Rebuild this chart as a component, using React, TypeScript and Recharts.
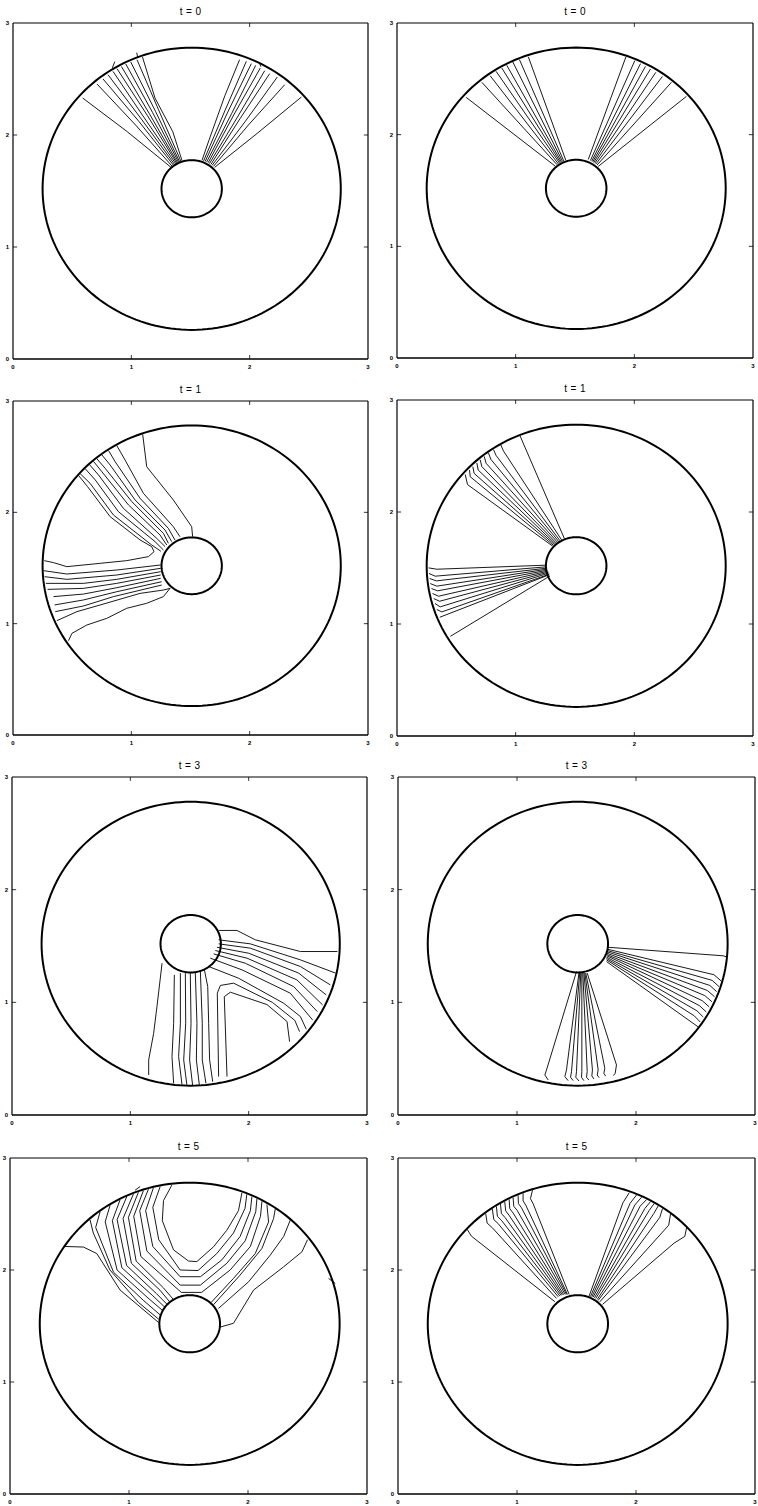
import { LineChart, Line, XAxis, YAxis, ReferenceLine } from 'recharts';

type Pt = [number, number];

const axisTicks = [0, 1, 2, 3];
const innerTicks = [1, 2];
const titles = ['t = 0', 't = 0', 't = 1', 't = 1', 't = 3', 't = 3', 't = 5', 't = 5'];

// annulus: outer wall and inner cylinder, data units
const centre: Pt = [1.51, 1.52];
const outerRadius = 1.26;
const innerRadius = 0.255;

// t = 0, computed contours
const t0Numeric: Pt[][] = [
  [[0.589, 2.33], [0.965, 2.03], [1.336, 1.711]],
  [[0.71, 2.455], [1.035, 2.09], [1.346, 1.72]],
  [[0.761, 2.5], [1.065, 2.12], [1.357, 1.729]],
  [[0.803, 2.538], [1.09, 2.135], [1.366, 1.736]],
  [[0.845, 2.568], [1.105, 2.16], [1.376, 1.742]],
  [[0.879, 2.592], [1.135, 2.175], [1.384, 1.747]],
  [[0.916, 2.612], [1.158, 2.18], [1.391, 1.752]],
  [[0.953, 2.634], [1.18, 2.2], [1.4, 1.756]],
  [[0.995, 2.652], [1.205, 2.21], [1.408, 1.76]],
  [[1.048, 2.672], [1.23, 2.225], [1.419, 1.765]],
  [[1.094, 2.697], [1.2, 2.33], [1.35, 2.03], [1.429, 1.769]],
  [[2.437, 2.339], [2.07, 2.02], [1.704, 1.711]],
  [[2.296, 2.449], [1.99, 2.09], [1.694, 1.72]],
  [[2.234, 2.518], [1.962, 2.12], [1.683, 1.729]],
  [[2.169, 2.548], [1.918, 2.145], [1.672, 1.737]],
  [[2.127, 2.574], [1.897, 2.16], [1.66, 1.745]],
  [[2.09, 2.598], [1.866, 2.18], [1.649, 1.752]],
  [[2.051, 2.622], [1.847, 2.19], [1.636, 1.758]],
  [[2.014, 2.637], [1.815, 2.205], [1.624, 1.764]],
  [[1.972, 2.658], [1.79, 2.215], [1.611, 1.769]],
  [[1.915, 2.673], [1.79, 2.35], [1.655, 1.95], [1.597, 1.773]],
  [[0.84, 2.6], [0.86, 2.655]],
  [[1.045, 2.735], [1.055, 2.69]],
  [[2.08, 2.65], [2.095, 2.61]],
];

// t = 0, exact contours
const t0Exact: Pt[][] = [
  [[0.583, 2.334], [1.336, 1.716]],
  [[0.715, 2.469], [1.35, 1.73]],
  [[0.785, 2.528], [1.36, 1.738]],
  [[0.835, 2.567], [1.37, 1.745]],
  [[0.883, 2.597], [1.378, 1.75]],
  [[0.925, 2.621], [1.386, 1.755]],
  [[0.976, 2.651], [1.395, 1.76]],
  [[1.032, 2.672], [1.405, 1.765]],
  [[1.107, 2.696], [1.422, 1.772]],
  [[2.439, 2.343], [1.696, 1.716]],
  [[2.313, 2.469], [1.686, 1.728]],
  [[2.237, 2.522], [1.676, 1.737]],
  [[2.181, 2.558], [1.667, 1.745]],
  [[2.136, 2.588], [1.658, 1.751]],
  [[2.094, 2.612], [1.65, 1.757]],
  [[2.052, 2.636], [1.641, 1.762]],
  [[2.004, 2.663], [1.63, 1.768]],
  [[1.929, 2.696], [1.612, 1.778]],
];

// t = 1, computed contours
const t1Numeric: Pt[][] = [
  [[1.096, 2.7], [1.13, 2.41], [1.355, 2.111], [1.51, 1.871], [1.518, 1.781]],
  [[0.877, 2.6], [0.947, 2.47], [1.102, 2.171], [1.355, 1.871], [1.411, 1.781]],
  [[0.807, 2.556], [0.863, 2.455], [1.074, 2.126], [1.313, 1.856], [1.369, 1.751]],
  [[0.751, 2.516], [0.821, 2.425], [1.032, 2.111], [1.285, 1.841], [1.341, 1.737]],
  [[0.708, 2.482], [0.779, 2.395], [1.004, 2.096], [1.271, 1.811], [1.313, 1.722]],
  [[0.68, 2.458], [0.751, 2.365], [0.976, 2.066], [1.243, 1.796], [1.299, 1.707]],
  [[0.647, 2.428], [0.723, 2.335], [0.933, 2.036], [1.215, 1.766], [1.285, 1.692]],
  [[0.61, 2.392], [0.695, 2.291], [0.891, 2.006], [1.2, 1.737], [1.271, 1.662]],
  [[0.568, 2.347], [0.652, 2.26], [0.849, 1.976], [1.172, 1.707], [1.25, 1.65]],
  [[0.554, 2.331], [0.63, 2.231], [0.821, 1.961], [1.074, 1.752], [1.172, 1.692], [1.192, 1.647],
   [1.144, 1.602], [0.961, 1.566], [0.737, 1.542], [0.455, 1.512], [0.343, 1.548], [0.264, 1.566]],
  [[0.259, 1.476], [0.455, 1.446], [0.877, 1.482], [1.248, 1.527]],
  [[0.267, 1.422], [0.455, 1.398], [0.877, 1.437], [1.248, 1.497]],
  [[0.278, 1.362], [0.596, 1.362], [0.877, 1.398], [1.248, 1.467]],
  [[0.292, 1.308], [0.596, 1.317], [0.877, 1.362], [1.248, 1.437]],
  [[0.343, 1.243], [0.596, 1.266], [0.877, 1.323], [1.248, 1.407]],
  [[0.351, 1.168], [0.596, 1.213], [0.877, 1.287], [1.257, 1.377]],
  [[0.357, 1.108], [0.596, 1.159], [0.849, 1.243], [1.257, 1.347]],
  [[0.371, 1.027], [0.54, 1.108], [0.737, 1.168], [1.074, 1.272], [1.271, 1.302], [1.327, 1.317]],
  [[0.469, 0.847], [0.498, 0.913], [0.624, 0.988], [0.793, 1.048], [0.961, 1.138], [1.13, 1.183],
   [1.271, 1.243], [1.327, 1.317]],
];

// t = 1, exact contours
const t1Exact: Pt[][] = [
  [[1.037, 2.68], [1.41, 1.764]],
  [[0.875, 2.6], [0.897, 2.545], [1.388, 1.749]],
  [[0.813, 2.558], [0.835, 2.505], [1.374, 1.743]],
  [[0.771, 2.526], [0.791, 2.47], [1.365, 1.734]],
  [[0.735, 2.496], [0.751, 2.435], [1.354, 1.728]],
  [[0.701, 2.466], [0.715, 2.405], [1.346, 1.719]],
  [[0.673, 2.437], [0.684, 2.375], [1.337, 1.713]],
  [[0.639, 2.405], [0.65, 2.345], [1.329, 1.707]],
  [[0.611, 2.375], [0.617, 2.315], [1.32, 1.701]],
  [[0.575, 2.335], [0.594, 2.245], [1.312, 1.695]],
  [[0.266, 1.501], [0.336, 1.489], [1.248, 1.525]],
  [[0.27, 1.451], [0.322, 1.427], [1.253, 1.51]],
  [[0.275, 1.406], [0.331, 1.385], [1.259, 1.498]],
  [[0.28, 1.361], [0.336, 1.338], [1.262, 1.489]],
  [[0.29, 1.317], [0.342, 1.296], [1.267, 1.48]],
  [[0.3, 1.272], [0.35, 1.248], [1.27, 1.471]],
  [[0.31, 1.227], [0.359, 1.203], [1.276, 1.463]],
  [[0.32, 1.183], [0.364, 1.153], [1.278, 1.454]],
  [[0.335, 1.129], [0.378, 1.108], [1.284, 1.445]],
  [[0.36, 1.06], [1.281, 1.439]],
  [[0.45, 0.89], [1.29, 1.43]],
];

// t = 3, computed contours
const t3Numeric: Pt[][] = [
  [[1.746, 1.638], [1.901, 1.638], [2.056, 1.555], [2.437, 1.451], [2.75, 1.451]],
  [[1.746, 1.555], [2.014, 1.519], [2.437, 1.377], [2.735, 1.259]],
  [[1.746, 1.519], [2.014, 1.481], [2.437, 1.318], [2.69, 1.155]],
  [[1.732, 1.489], [2.0, 1.436], [2.423, 1.259], [2.655, 1.066]],
  [[1.718, 1.46], [1.986, 1.392], [2.408, 1.199], [2.625, 0.977]],
  [[1.704, 1.43], [1.972, 1.347], [2.38, 1.14], [2.58, 0.918]],
  [[1.676, 1.392], [1.944, 1.288], [2.352, 1.081], [2.54, 0.844]],
  [[1.662, 1.318], [1.915, 1.214], [2.296, 0.992], [2.437, 0.874], [2.487, 0.761]],
  [[1.746, 0.341], [1.735, 1.081], [1.761, 1.15], [1.873, 1.17], [2.2, 1.0], [2.39, 0.84], [2.43, 0.74]],
  [[1.817, 0.341], [1.794, 1.05], [1.845, 1.09], [2.155, 0.98], [2.324, 0.83], [2.346, 0.651]],
  [[1.268, 1.347], [1.225, 0.962], [1.197, 0.725], [1.155, 0.489], [1.155, 0.355]],
  [[1.372, 1.244], [1.366, 0.814], [1.352, 0.518], [1.366, 0.281]],
  [[1.423, 1.259], [1.423, 0.814], [1.408, 0.518], [1.437, 0.267]],
  [[1.465, 1.259], [1.468, 0.814], [1.451, 0.489], [1.479, 0.258]],
  [[1.507, 1.259], [1.513, 0.814], [1.501, 0.489], [1.527, 0.258]],
  [[1.549, 1.264], [1.563, 0.814], [1.558, 0.489], [1.583, 0.267]],
  [[1.592, 1.273], [1.608, 0.814], [1.608, 0.489], [1.639, 0.281]],
  [[1.625, 1.294], [1.654, 1.14], [1.662, 0.814], [1.67, 0.489], [1.696, 0.296]],
];

// t = 3, exact contours
const t3Exact: Pt[][] = [
  [[1.761, 1.489], [2.733, 1.413], [2.757, 1.405]],
  [[1.758, 1.472], [2.655, 1.245], [2.715, 1.19]],
  [[1.758, 1.46], [2.64, 1.195], [2.697, 1.14]],
  [[1.758, 1.448], [2.62, 1.15], [2.678, 1.095]],
  [[1.755, 1.436], [2.6, 1.105], [2.66, 1.05]],
  [[1.755, 1.424], [2.578, 1.06], [2.638, 1.005]],
  [[1.755, 1.413], [2.556, 1.015], [2.615, 0.96]],
  [[1.752, 1.401], [2.534, 0.97], [2.59, 0.915]],
  [[1.752, 1.389], [2.512, 0.925], [2.565, 0.87]],
  [[1.752, 1.377], [2.49, 0.88], [2.54, 0.825]],
  [[1.752, 1.362], [2.525, 0.78]],
  [[1.5, 1.273], [1.248, 0.4], [1.234, 0.355], [1.262, 0.311]],
  [[1.522, 1.273], [1.416, 0.4], [1.402, 0.341], [1.43, 0.305]],
  [[1.528, 1.273], [1.458, 0.385], [1.45, 0.335], [1.472, 0.305]],
  [[1.536, 1.267], [1.5, 0.385], [1.494, 0.335], [1.52, 0.302]],
  [[1.545, 1.264], [1.545, 0.385], [1.542, 0.335], [1.562, 0.305]],
  [[1.553, 1.264], [1.59, 0.385], [1.584, 0.335], [1.604, 0.311]],
  [[1.562, 1.264], [1.634, 0.4], [1.629, 0.347], [1.646, 0.32]],
  [[1.57, 1.261], [1.682, 0.4], [1.674, 0.355], [1.69, 0.332]],
  [[1.578, 1.259], [1.738, 0.415], [1.73, 0.37], [1.745, 0.345]],
  [[1.59, 1.259], [1.836, 0.444], [1.825, 0.37], [1.81, 0.35]],
];

// t = 5, computed contours
const t5Numeric: Pt[][] = [
  [[1.36, 2.758], [1.29, 2.62], [1.28, 2.44], [1.374, 2.18], [1.5, 2.08], [1.57, 2.075], [1.71, 2.207], [1.822, 2.355], [1.92, 2.53], [1.949, 2.69]],
  [[1.262, 2.745], [1.2, 2.56], [1.25, 2.27], [1.43, 2.0], [1.58, 1.995], [1.738, 2.147], [1.878, 2.33], [1.975, 2.55], [1.99, 2.675]],
  [[1.205, 2.733], [1.14, 2.53], [1.2, 2.21], [1.43, 1.94], [1.6, 1.94], [1.78, 2.09], [1.934, 2.3], [2.02, 2.53], [2.033, 2.656]],
  [[1.163, 2.721], [1.09, 2.53], [1.15, 2.17], [1.43, 1.865], [1.6, 1.865], [1.822, 2.06], [1.976, 2.26], [2.065, 2.52], [2.075, 2.636]],
  [[1.121, 2.708], [1.04, 2.48], [1.1, 2.12], [1.44, 1.8], [1.61, 1.8], [1.85, 2.0], [2.02, 2.21], [2.105, 2.48], [2.117, 2.614]],
  [[1.079, 2.694], [0.995, 2.47], [1.06, 2.08], [1.29, 1.84], [1.37, 1.74]],
  [[1.037, 2.678], [0.95, 2.46], [1.02, 2.06], [1.26, 1.82], [1.345, 1.712]],
  [[0.981, 2.654], [0.9, 2.45], [0.98, 2.04], [1.23, 1.79], [1.323, 1.69]],
  [[0.925, 2.626], [0.86, 2.44], [0.94, 2.02], [1.2, 1.77], [1.303, 1.666]],
  [[0.841, 2.578], [0.8, 2.43], [0.9, 2.0], [1.16, 1.75], [1.284, 1.637]],
  [[0.757, 2.52], [0.72, 2.38], [0.87, 1.98], [1.12, 1.73], [1.263, 1.598]],
  [[0.673, 2.447], [0.7, 2.33], [0.84, 2.0], [1.08, 1.71], [1.25, 1.56]],
  [[0.46, 2.21], [0.617, 2.205], [0.729, 2.147], [0.925, 1.821], [1.25, 1.53]],
  [[2.159, 2.585], [2.173, 2.429], [2.061, 2.147], [1.878, 1.925], [1.69, 1.71]],
  [[2.229, 2.545], [2.215, 2.459], [2.117, 2.192], [1.934, 1.955], [1.71, 1.69]],
  [[2.355, 2.445], [2.3, 2.3], [2.187, 2.133], [2.005, 1.895], [1.752, 1.657]],
  [[2.5, 2.27], [2.453, 2.162], [2.299, 2.028], [2.047, 1.821], [1.878, 1.524], [1.765, 1.49]],
  [[1.051, 2.712], [1.093, 2.745]],
  [[2.677, 1.925], [2.733, 1.88]],
];

// t = 5, exact contours
const t5Exact: Pt[][] = [
  [[0.58, 2.365], [0.617, 2.302], [1.318, 1.717]],
  [[0.737, 2.505], [0.749, 2.419], [0.793, 2.377], [1.332, 1.746]],
  [[0.793, 2.545], [0.805, 2.45], [0.841, 2.415], [1.346, 1.761]],
  [[0.827, 2.568], [0.835, 2.48], [0.869, 2.444], [1.36, 1.767]],
  [[0.861, 2.59], [0.869, 2.504], [0.9, 2.468], [1.371, 1.773]],
  [[0.897, 2.61], [0.905, 2.528], [0.933, 2.489], [1.382, 1.776]],
  [[0.934, 2.63], [0.939, 2.548], [0.967, 2.509], [1.393, 1.779]],
  [[0.967, 2.648], [0.973, 2.569], [1.001, 2.533], [1.405, 1.782]],
  [[1.009, 2.667], [1.012, 2.593], [1.037, 2.557], [1.416, 1.782]],
  [[1.051, 2.686], [1.051, 2.617], [1.074, 2.578], [1.424, 1.782]],
  [[1.13, 2.712], [1.113, 2.637], [1.135, 2.593], [1.438, 1.782]],
  [[1.943, 2.69], [1.89, 2.6], [1.606, 1.767]],
  [[2.004, 2.669], [1.95, 2.595], [1.618, 1.764]],
  [[2.047, 2.65], [1.99, 2.58], [1.629, 1.761]],
  [[2.089, 2.629], [2.035, 2.57], [1.64, 1.758]],
  [[2.122, 2.611], [2.075, 2.55], [1.651, 1.752]],
  [[2.153, 2.594], [2.11, 2.53], [1.662, 1.746]],
  [[2.187, 2.573], [2.15, 2.505], [1.674, 1.737]],
  [[2.223, 2.549], [2.2, 2.47], [1.682, 1.728]],
  [[2.29, 2.5], [2.275, 2.4], [1.696, 1.716]],
  [[2.425, 2.376], [2.41, 2.3], [2.32, 2.24], [1.719, 1.693]],
];

const contours = [t0Numeric, t0Exact, t1Numeric, t1Exact, t3Numeric, t3Exact, t5Numeric, t5Exact];

// plot box of each panel on the page: left, top, width, height
const frames = [
  [13, 23, 355, 336], [397, 23, 356, 335],
  [13, 401, 355, 334], [397, 400, 356, 336],
  [12, 777, 355, 338], [398, 777, 357, 338],
  [10, 1158, 357, 336], [398, 1158, 357, 336],
];

const ink = '#000';
const font = 'Arial, "Liberation Sans", Helvetica, sans-serif';

function ring(r: number) {
  const pts = [];
  for (let i = 0; i <= 180; i++) {
    const a = (i / 180) * Math.PI * 2;
    pts.push({ x: centre[0] + r * Math.cos(a), y: centre[1] + r * Math.sin(a) });
  }
  return pts;
}

const outerWall = ring(outerRadius);
const innerWall = ring(innerRadius);

const rows = (l: Pt[]) => l.map(([x, y]) => ({ x, y }));

function Panel({ title, lines, frame }: { title: string; lines: Pt[][]; frame: number[] }) {
  const [left, top, w, h] = frame;
  const tickStyle = { fontSize: 6, fontWeight: 700, fill: ink, fontFamily: font };
  const tickLen = 0.035;
  return (
    <>
      <div
        style={{
          position: 'absolute', left, top: top - 18, width: w, height: 14,
          lineHeight: '14px', textAlign: 'center', fontFamily: font, fontSize: 10,
          letterSpacing: 0.4, color: ink,
        }}
      >
        {title}
      </div>
      <div style={{ position: 'absolute', left: left - 13, top: top - 13 }}>
        <LineChart width={w + 16} height={h + 27} margin={{ top: 13, right: 3, bottom: 0, left: 0 }}>
          <XAxis
            type="number" dataKey="x" domain={[0, 3]} ticks={axisTicks} interval={0}
            allowDataOverflow height={14} tickLine={false} tickSize={0} tickMargin={6}
            axisLine={{ stroke: ink, strokeWidth: 1.5 }} tick={tickStyle}
          />
          <YAxis
            type="number" dataKey="y" domain={[0, 3]} ticks={axisTicks} interval={0}
            allowDataOverflow width={13} tickLine={false} tickSize={0} tickMargin={4}
            axisLine={{ stroke: ink, strokeWidth: 1.2 }} tick={tickStyle}
          />
          <ReferenceLine y={3} stroke={ink} strokeWidth={1.2} />
          <ReferenceLine x={3} stroke={ink} strokeWidth={1.2} />
          {innerTicks.map((v) => [
            <ReferenceLine key={`b${v}`} segment={[{ x: v, y: 0 }, { x: v, y: tickLen }]} stroke={ink} strokeWidth={0.8} />,
            <ReferenceLine key={`t${v}`} segment={[{ x: v, y: 3 }, { x: v, y: 3 - tickLen }]} stroke={ink} strokeWidth={0.8} />,
            <ReferenceLine key={`l${v}`} segment={[{ x: 0, y: v }, { x: tickLen, y: v }]} stroke={ink} strokeWidth={0.8} />,
            <ReferenceLine key={`r${v}`} segment={[{ x: 3, y: v }, { x: 3 - tickLen, y: v }]} stroke={ink} strokeWidth={0.8} />,
          ])}
          {lines.map((l, i) => (
            <Line
              key={i} data={rows(l)} dataKey="y" type="linear" stroke={ink} strokeWidth={0.9}
              dot={false} activeDot={false} legendType="none" isAnimationActive={false}
            />
          ))}
          <Line
            data={outerWall} dataKey="y" type="linear" stroke={ink} strokeWidth={2}
            dot={false} activeDot={false} legendType="none" isAnimationActive={false}
          />
          <Line
            data={innerWall} dataKey="y" type="linear" stroke={ink} strokeWidth={2}
            dot={false} activeDot={false} legendType="none" isAnimationActive={false}
          />
        </LineChart>
      </div>
    </>
  );
}

export default function App() {
  return (
    <div
      style={{
        position: 'absolute', left: 0, top: 0, width: 758, height: 1506,
        background: '#fff', overflow: 'hidden',
      }}
    >
      {frames.map((f, i) => (
        <Panel key={i} title={titles[i]} lines={contours[i]} frame={f} />
      ))}
    </div>
  );
}
